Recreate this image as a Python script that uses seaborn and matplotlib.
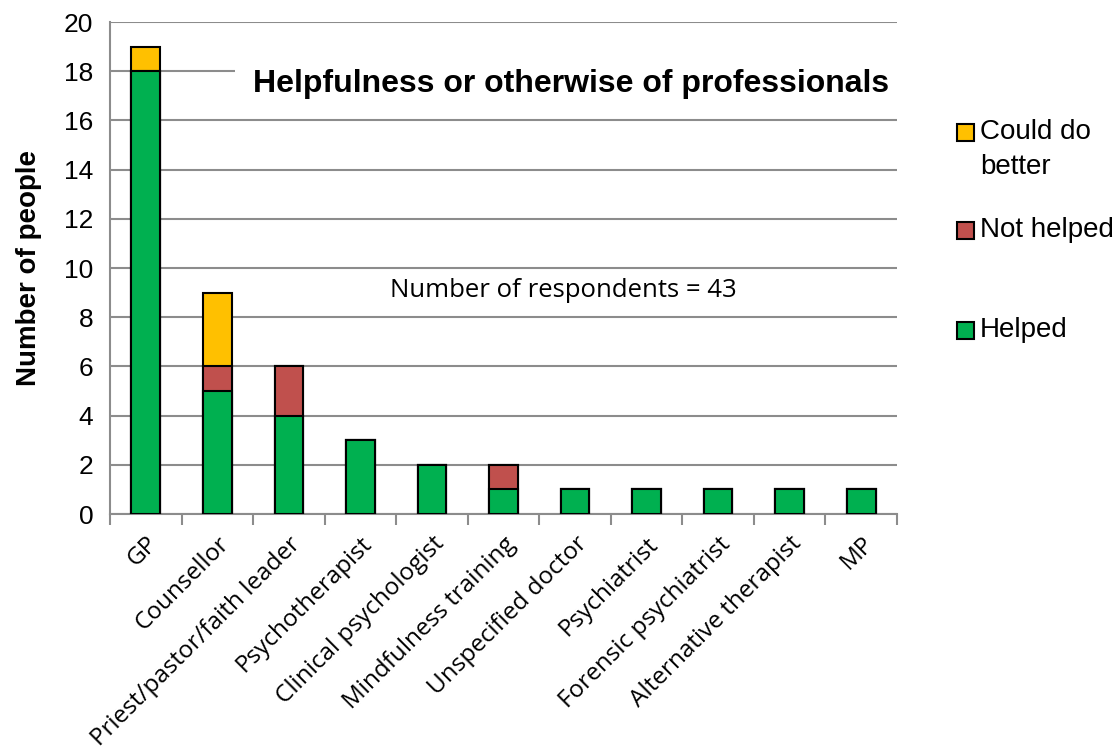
import matplotlib
matplotlib.use("Agg")
import matplotlib.pyplot as plt
import seaborn as sns
import pandas as pd
import numpy as np
from matplotlib.patches import Rectangle

categories = ["GP", "Counsellor", "Priest/pastor/faith leader", "Psychotherapist",
              "Clinical psychologist", "Mindfulness training", "Unspecified doctor",
              "Psychiatrist", "Forensic psychiatrist", "Alternative therapist", "MP"]
helped = [18, 5, 4, 3, 2, 1, 1, 1, 1, 1, 1]
not_helped = [0, 1, 2, 0, 0, 1, 0, 0, 0, 0, 0]
could_do_better = [1, 3, 0, 0, 0, 0, 0, 0, 0, 0, 0]
legend_labels = ["Could do", "better", "Not helped", "Helped"]

c_green = "#00B050"
c_red = "#C0504D"
c_yellow = "#FFC000"

sns.set_theme(style="white")
plt.rcParams['font.family'] = ['Liberation Sans', 'DejaVu Sans']
plt.rcParams['text.color'] = 'black'
plt.rcParams['xtick.color'] = 'black'
plt.rcParams['ytick.color'] = 'black'
plt.rcParams['axes.labelcolor'] = 'black'

df = pd.DataFrame({"category": categories, "helped": helped,
                   "not_helped": not_helped, "could": could_do_better})
df["lvl2"] = df["helped"] + df["not_helped"]
df["lvl3"] = df["lvl2"] + df["could"]

W, H = 1119, 753
fig = plt.figure(figsize=(W / 100, H / 100), dpi=100)
ax = fig.add_axes([110 / W, 1 - 514 / H, 787 / W, 492 / H])

for col, color in [("lvl3", c_yellow), ("lvl2", c_red), ("helped", c_green)]:
    sns.barplot(data=df, x="category", y=col, color=color, width=0.4,
                edgecolor="black", linewidth=1.5, ax=ax, saturation=1, zorder=3)

ax.set_ylim(0, 20)
ax.set_xlim(-0.5, len(categories) - 0.5)
ax.set_yticks(range(0, 21, 2))
ax.yaxis.grid(True, color="#8c8c8c", linewidth=1.5, zorder=0)
ax.set_axisbelow(True)
for s in ["top", "right"]:
    ax.spines[s].set_visible(False)
for s in ["left", "bottom"]:
    ax.spines[s].set_color("#8c8c8c")
    ax.spines[s].set_linewidth(1.5)

# x ticks at category boundaries
ax.set_xticks(np.arange(-0.5, len(categories), 1.0), minor=False)
ax.set_xticklabels([])
ax.tick_params(axis="x", which="major", direction="out", length=8, width=1.5, color="#8c8c8c", bottom=True)
ax.set_xticks(np.arange(len(categories)), minor=True)
ax.set_xticklabels(categories, minor=True, rotation=45, ha="right", rotation_mode="anchor",
                   fontsize=17.5, family=["Open Sans", "DejaVu Sans"], color="black")
ax.tick_params(axis="x", which="minor", length=0, pad=13)
ax.tick_params(axis="y", direction="out", length=7, width=1.5, color="#8c8c8c", labelsize=19,
               pad=5, labelcolor="black")

ax.set_xlabel("")
ax.set_ylabel("Number of people", fontsize=20, fontweight="bold", color="black")
ax.yaxis.set_label_coords(-0.086, 0.5)

fig.text(253 / W, 1 - 84 / H, "Helpfulness or otherwise of professionals",
         ha="left", va="center", fontsize=23, fontweight="bold", zorder=5, color="black",
         bbox=dict(facecolor="white", edgecolor="none", pad=13))
ax.text(5.83, 9.1, "Number of respondents = 43", ha="center", va="center", fontsize=18.5,
        family=["Open Sans", "DejaVu Sans"], zorder=5, color="black")

# legend (manual, to mimic first-line alignment)
sq = 17
for yc, color in [(132, c_yellow), (230, c_red), (330, c_green)]:
    fig.patches.append(Rectangle((957 / W, 1 - (yc + sq / 2) / H), sq / W, sq / H,
                                 facecolor=color, edgecolor="black", linewidth=1.5,
                                 transform=fig.transFigure, figure=fig))
for yc, lab in zip([132, 167, 230, 330], legend_labels):
    fig.text(980 / W, 1 - yc / H, lab, ha="left", va="center", fontsize=20, color="black")

fig.savefig("out.png", dpi=100)
